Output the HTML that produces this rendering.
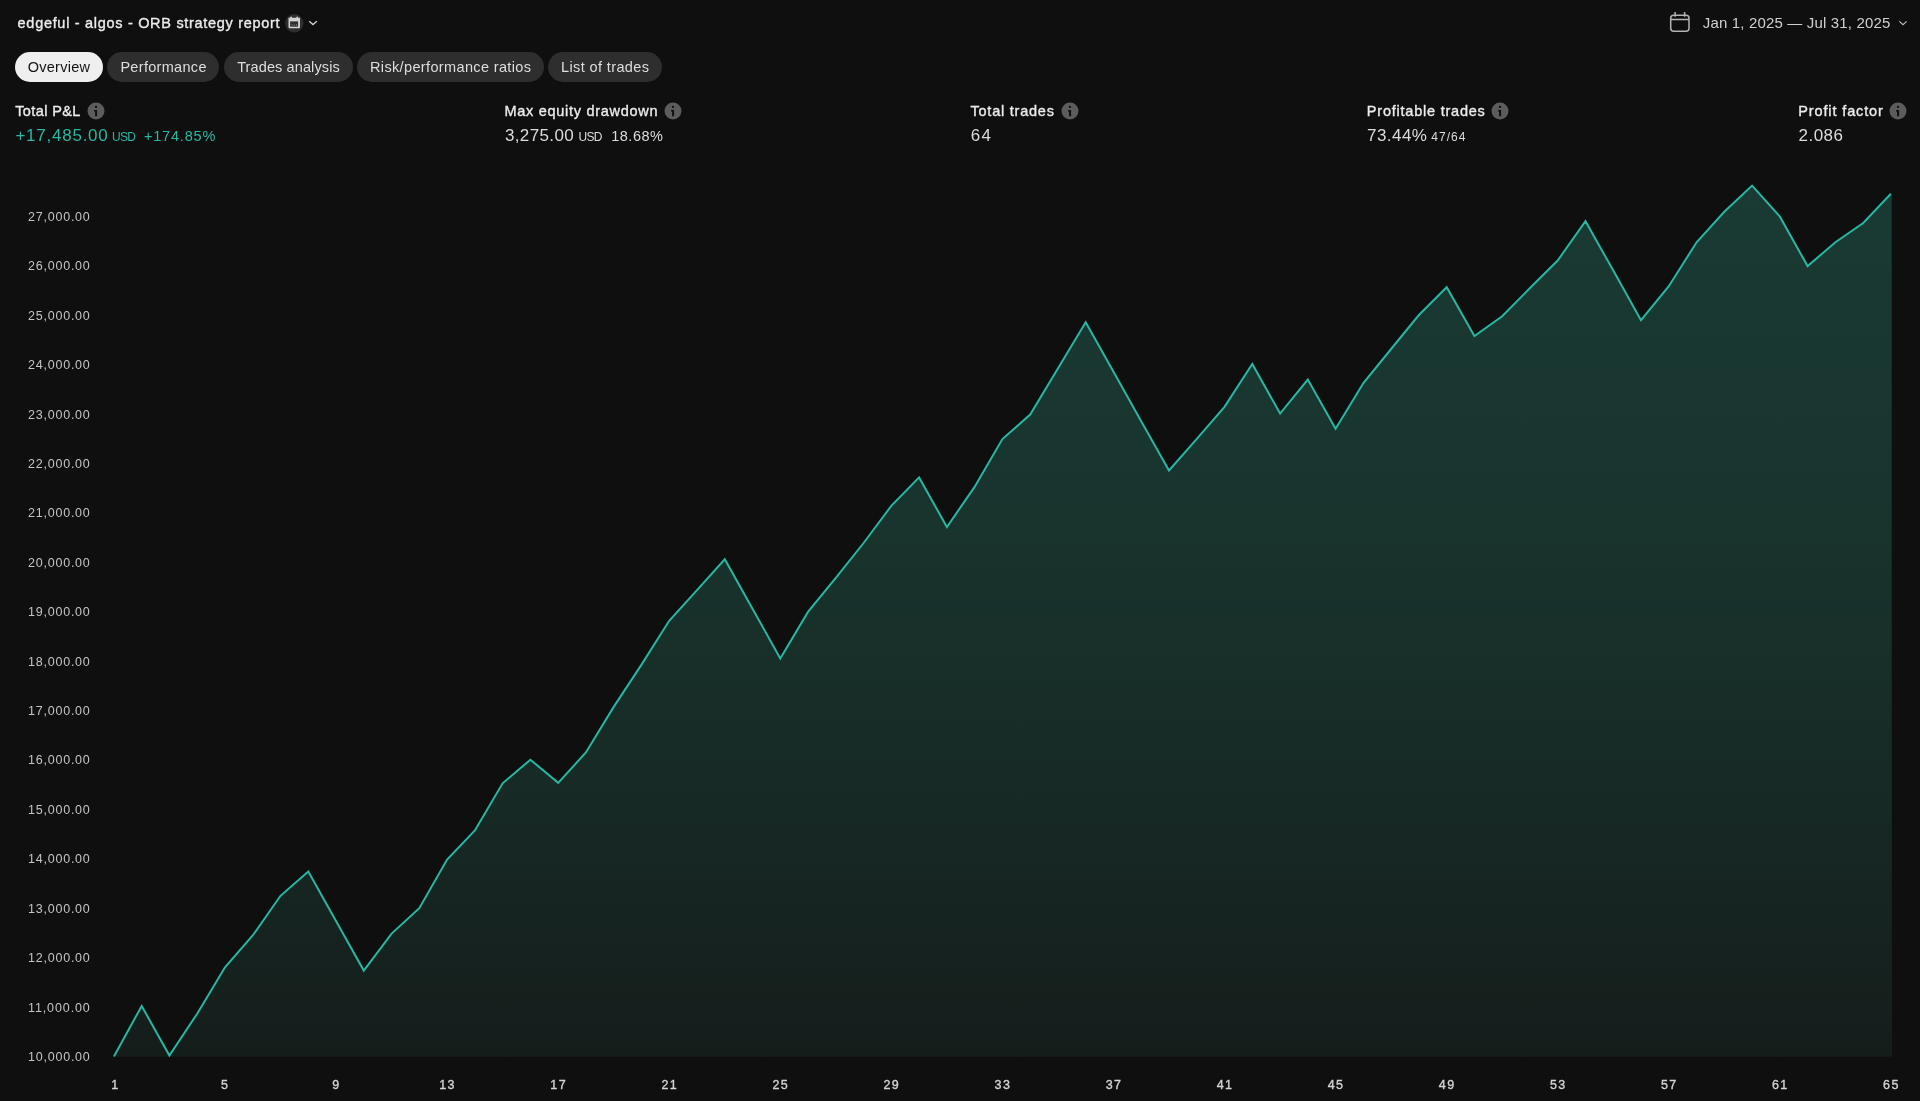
<!DOCTYPE html>
<html lang="en"><head><meta charset="utf-8"><title>edgeful - algos - ORB strategy report</title>
<style>
html,body{margin:0;padding:0;background:#0f0f0f;}
body{width:1920px;height:1101px;position:relative;overflow:hidden;font-family:"Liberation Sans",sans-serif;}
#app{position:absolute;left:0;top:0;width:1920px;height:1101px;will-change:transform;}
.g{position:absolute;left:0;top:0;}
.t{position:absolute;margin:0;white-space:pre;line-height:20px;height:20px;font-weight:400;}
.a{position:absolute;}
.pill{position:absolute;top:52.3px;height:29.3px;border-radius:15px;}
</style></head><body>
<div id="app">
<!-- equity chart -->
<svg class="a" style="left:0;top:0" width="1920" height="1101" viewBox="0 0 1920 1101">
<defs><linearGradient id="g" gradientUnits="userSpaceOnUse" x1="0" y1="185" x2="0" y2="1057">
<stop offset="0" stop-color="rgb(26,58,52)"/><stop offset="0.361" stop-color="rgb(25,52,46)"/><stop offset="0.717" stop-color="rgb(23,41,37)"/><stop offset="1" stop-color="rgb(21,29,27)"/></linearGradient></defs>
<polygon points="113.9,1056.4 141.7,1006.0 169.4,1055.5 197.2,1013.7 225.0,967.3 252.7,935.5 280.5,895.8 308.3,871.6 336.0,921.1 363.8,970.6 391.6,933.6 419.3,908.2 447.1,859.5 474.9,830.4 502.6,783.3 530.4,759.7 558.2,782.8 585.9,752.5 613.7,706.9 641.5,664.6 669.2,620.8 697.0,590.1 724.8,559.3 752.5,608.8 780.3,658.4 808.0,611.9 835.8,577.8 863.6,543.0 891.3,505.9 919.1,477.4 946.9,527.0 974.6,486.9 1002.4,439.1 1030.2,414.6 1057.9,368.5 1085.7,322.2 1113.5,371.7 1141.2,421.3 1169.0,470.5 1196.8,438.8 1224.5,406.9 1252.3,363.9 1280.1,413.6 1307.8,379.5 1335.6,428.7 1363.4,383.1 1391.1,349.0 1418.9,315.0 1446.7,287.2 1474.4,336.1 1502.2,316.2 1530.0,288.0 1557.7,260.5 1585.5,221.2 1613.3,270.6 1641.0,320.2 1668.8,286.2 1696.6,242.3 1724.3,211.8 1752.1,185.6 1779.9,216.7 1807.6,266.1 1835.4,242.3 1863.2,223.0 1890.9,193.8 1891.5,193.8 1891.5,1056.8 113.9,1056.8" fill="url(#g)"/>
<rect x="1890.9" y="194" width="1.3" height="862.8" fill="#26b8a2" fill-opacity="0.06"/>
<polyline points="113.9,1056.4 141.7,1006.0 169.4,1055.5 197.2,1013.7 225.0,967.3 252.7,935.5 280.5,895.8 308.3,871.6 336.0,921.1 363.8,970.6 391.6,933.6 419.3,908.2 447.1,859.5 474.9,830.4 502.6,783.3 530.4,759.7 558.2,782.8 585.9,752.5 613.7,706.9 641.5,664.6 669.2,620.8 697.0,590.1 724.8,559.3 752.5,608.8 780.3,658.4 808.0,611.9 835.8,577.8 863.6,543.0 891.3,505.9 919.1,477.4 946.9,527.0 974.6,486.9 1002.4,439.1 1030.2,414.6 1057.9,368.5 1085.7,322.2 1113.5,371.7 1141.2,421.3 1169.0,470.5 1196.8,438.8 1224.5,406.9 1252.3,363.9 1280.1,413.6 1307.8,379.5 1335.6,428.7 1363.4,383.1 1391.1,349.0 1418.9,315.0 1446.7,287.2 1474.4,336.1 1502.2,316.2 1530.0,288.0 1557.7,260.5 1585.5,221.2 1613.3,270.6 1641.0,320.2 1668.8,286.2 1696.6,242.3 1724.3,211.8 1752.1,185.6 1779.9,216.7 1807.6,266.1 1835.4,242.3 1863.2,223.0 1890.9,193.8" fill="none" stroke="#26b8a2" stroke-width="2" stroke-linejoin="miter" stroke-linecap="butt"/>
</svg>
<!-- header -->
<header class="g">
<h1 class="t" style="left:17.62px;top:13px;font-size:14.5px;color:#ececec;letter-spacing:0.696px;-webkit-text-stroke:0.35px #ececec;">edgeful - algos - ORB strategy report</h1>
<svg class="a" style="left:284.9px;top:14px" width="19" height="19" viewBox="0 0 19 19"><circle cx="9.3" cy="9.3" r="9.2" fill="#2e2e2e"/>
<path d="M3.5 3.8h11.5v9.4a1.1 1.1 0 0 1-1.1 1.1H4.6a1.1 1.1 0 0 1-1.1-1.1z" fill="#d2d2d2"/><rect x="5.1" y="7.4" width="8" height="5.3" fill="#2e2e2e"/><rect x="5.3" y="2.7" width="1.7" height="2.2" fill="#d2d2d2"/><rect x="11.4" y="2.7" width="1.7" height="2.2" fill="#d2d2d2"/><path d="M6.6 10.6h.9v.9h-.9zM8.8 10.6h.9v.9h-.9zM11 10.6h.9v.9h-.9z" fill="#a8a8a8"/></svg>
<svg class="a" style="left:307px;top:18px" width="12" height="10" viewBox="0 0 12 10"><path d="M2.2 3.2 6 6.6 9.8 3.2" fill="none" stroke="#d0d0d0" stroke-width="1.3"/></svg>
<svg class="a" style="left:1668px;top:10px" width="24" height="24" viewBox="0 0 24 24"><rect x="2.7" y="5.2" width="18.3" height="16" rx="3" fill="none" stroke="#b4b4b4" stroke-width="1.5"/><path d="M2.7 9.6h18.3M7.1 2.1v4.6M16.6 2.1v4.6" fill="none" stroke="#b4b4b4" stroke-width="1.5"/></svg>
<span class="t" style="left:1702.80px;top:13px;font-size:15px;color:#d0d0d0;letter-spacing:0.161px;">Jan 1, 2025 — Jul 31, 2025</span>
<svg class="a" style="left:1897.3px;top:18px" width="12" height="10" viewBox="0 0 12 10"><path d="M2.4 3.4 6 6.7 9.6 3.4" fill="none" stroke="#bdbdbd" stroke-width="1.15"/></svg>
</header>
<!-- tabs -->
<nav class="g"><div class="pill" style="left:14.5px;width:88.5px;background:#efefef"><span class="t" style="left:13.20px;top:4.7px;font-size:14.5px;color:#131313;letter-spacing:0.266px;">Overview</span></div><div class="pill" style="left:106.9px;width:112.4px;background:#2e2e2e"><span class="t" style="left:13.50px;top:4.7px;font-size:14.5px;color:#dedede;letter-spacing:0.308px;">Performance</span></div><div class="pill" style="left:224px;width:128.5px;background:#2e2e2e"><span class="t" style="left:13.20px;top:4.7px;font-size:14.5px;color:#dedede;letter-spacing:0.110px;">Trades analysis</span></div><div class="pill" style="left:357.3px;width:186.5px;background:#2e2e2e"><span class="t" style="left:12.70px;top:4.7px;font-size:14.5px;color:#dedede;letter-spacing:0.359px;">Risk/performance ratios</span></div><div class="pill" style="left:548.2px;width:113.6px;background:#2e2e2e"><span class="t" style="left:12.80px;top:4.7px;font-size:14.5px;color:#dedede;letter-spacing:0.383px;">List of trades</span></div></nav>
<!-- summary metrics -->
<section class="g">
<div class="g"><span class="t" style="left:15.22px;top:101px;font-size:14.5px;color:#ececec;letter-spacing:0.390px;-webkit-text-stroke:0.35px #ececec;">Total P&amp;L</span><svg class="a" style="left:87.0px;top:101.5px" width="18" height="18" viewBox="0 0 18 18"><circle cx="9" cy="9" r="8.5" fill="#5c5c5c"/><circle cx="9" cy="4.9" r="1.15" fill="#101010"/><path d="M7 7.9h3.1v6.4h-2v-4.8h-1.1z" fill="#101010"/></svg><span class="t" style="left:15.40px;top:126px;font-size:17px;color:#27b9a1;letter-spacing:0.760px;">+17,485.00</span><span class="t" style="left:112.00px;top:127px;font-size:12px;color:#27b9a1;letter-spacing:-0.672px;">USD</span><span class="t" style="left:143.90px;top:126px;font-size:14.5px;color:#27b9a1;letter-spacing:0.812px;">+174.85%</span></div>
<div class="g"><span class="t" style="left:504.52px;top:101px;font-size:14.5px;color:#ececec;letter-spacing:0.708px;-webkit-text-stroke:0.35px #ececec;">Max equity drawdown</span><svg class="a" style="left:664.0px;top:101.5px" width="18" height="18" viewBox="0 0 18 18"><circle cx="9" cy="9" r="8.5" fill="#5c5c5c"/><circle cx="9" cy="4.9" r="1.15" fill="#101010"/><path d="M7 7.9h3.1v6.4h-2v-4.8h-1.1z" fill="#101010"/></svg><span class="t" style="left:504.90px;top:126px;font-size:17px;color:#dcdcdc;letter-spacing:0.373px;">3,275.00</span><span class="t" style="left:578.60px;top:127px;font-size:12px;color:#dcdcdc;letter-spacing:-0.722px;">USD</span><span class="t" style="left:611.20px;top:126px;font-size:14.5px;color:#dcdcdc;letter-spacing:0.522px;">18.68%</span></div>
<div class="g"><span class="t" style="left:970.53px;top:101px;font-size:14.5px;color:#ececec;letter-spacing:0.766px;-webkit-text-stroke:0.35px #ececec;">Total trades</span><svg class="a" style="left:1060.5px;top:101.5px" width="18" height="18" viewBox="0 0 18 18"><circle cx="9" cy="9" r="8.5" fill="#5c5c5c"/><circle cx="9" cy="4.9" r="1.15" fill="#101010"/><path d="M7 7.9h3.1v6.4h-2v-4.8h-1.1z" fill="#101010"/></svg><span class="t" style="left:970.70px;top:126px;font-size:17px;color:#dcdcdc;letter-spacing:1.278px;">64</span></div>
<div class="g"><span class="t" style="left:1366.83px;top:101px;font-size:14.5px;color:#ececec;letter-spacing:0.775px;-webkit-text-stroke:0.35px #ececec;">Profitable trades</span><svg class="a" style="left:1491.0px;top:101.5px" width="18" height="18" viewBox="0 0 18 18"><circle cx="9" cy="9" r="8.5" fill="#5c5c5c"/><circle cx="9" cy="4.9" r="1.15" fill="#101010"/><path d="M7 7.9h3.1v6.4h-2v-4.8h-1.1z" fill="#101010"/></svg><span class="t" style="left:1367.00px;top:126px;font-size:17px;color:#dcdcdc;letter-spacing:0.466px;">73.44%</span><span class="t" style="left:1431.30px;top:127px;font-size:12px;color:#dcdcdc;letter-spacing:1.017px;">47/64</span></div>
<div class="g"><span class="t" style="left:1798.33px;top:101px;font-size:14.5px;color:#ececec;letter-spacing:0.863px;-webkit-text-stroke:0.35px #ececec;">Profit factor</span><svg class="a" style="left:1888.9px;top:101.5px" width="18" height="18" viewBox="0 0 18 18"><circle cx="9" cy="9" r="8.5" fill="#5c5c5c"/><circle cx="9" cy="4.9" r="1.15" fill="#101010"/><path d="M7 7.9h3.1v6.4h-2v-4.8h-1.1z" fill="#101010"/></svg><span class="t" style="left:1798.50px;top:126px;font-size:17px;color:#dcdcdc;letter-spacing:0.488px;">2.086</span></div>
</section>
<!-- price axis -->
<div class="g"><span class="t" style="left:28.00px;top:207px;font-size:12.5px;color:#c4c4c4;letter-spacing:0.774px;">27,000.00</span><span class="t" style="left:28.00px;top:256px;font-size:12.5px;color:#c4c4c4;letter-spacing:0.774px;">26,000.00</span><span class="t" style="left:28.00px;top:306px;font-size:12.5px;color:#c4c4c4;letter-spacing:0.774px;">25,000.00</span><span class="t" style="left:28.00px;top:355px;font-size:12.5px;color:#c4c4c4;letter-spacing:0.774px;">24,000.00</span><span class="t" style="left:28.00px;top:405px;font-size:12.5px;color:#c4c4c4;letter-spacing:0.774px;">23,000.00</span><span class="t" style="left:28.00px;top:454px;font-size:12.5px;color:#c4c4c4;letter-spacing:0.774px;">22,000.00</span><span class="t" style="left:28.00px;top:503px;font-size:12.5px;color:#c4c4c4;letter-spacing:0.774px;">21,000.00</span><span class="t" style="left:28.00px;top:553px;font-size:12.5px;color:#c4c4c4;letter-spacing:0.774px;">20,000.00</span><span class="t" style="left:28.00px;top:602px;font-size:12.5px;color:#c4c4c4;letter-spacing:0.774px;">19,000.00</span><span class="t" style="left:28.00px;top:652px;font-size:12.5px;color:#c4c4c4;letter-spacing:0.774px;">18,000.00</span><span class="t" style="left:28.00px;top:701px;font-size:12.5px;color:#c4c4c4;letter-spacing:0.774px;">17,000.00</span><span class="t" style="left:28.00px;top:750px;font-size:12.5px;color:#c4c4c4;letter-spacing:0.774px;">16,000.00</span><span class="t" style="left:28.00px;top:800px;font-size:12.5px;color:#c4c4c4;letter-spacing:0.774px;">15,000.00</span><span class="t" style="left:28.00px;top:849px;font-size:12.5px;color:#c4c4c4;letter-spacing:0.774px;">14,000.00</span><span class="t" style="left:28.00px;top:899px;font-size:12.5px;color:#c4c4c4;letter-spacing:0.774px;">13,000.00</span><span class="t" style="left:28.00px;top:948px;font-size:12.5px;color:#c4c4c4;letter-spacing:0.774px;">12,000.00</span><span class="t" style="left:28.00px;top:998px;font-size:12.5px;color:#c4c4c4;letter-spacing:0.889px;">11,000.00</span><span class="t" style="left:28.00px;top:1047px;font-size:12.5px;color:#c4c4c4;letter-spacing:0.774px;">10,000.00</span></div>
<!-- trade number axis -->
<div class="g"><span class="t" style="left:111.23px;top:1075px;font-size:12.5px;color:#d4d4d4;-webkit-text-stroke:0.35px #d4d4d4;">1</span><span class="t" style="left:221.09px;top:1075px;font-size:12.5px;color:#d4d4d4;-webkit-text-stroke:0.35px #d4d4d4;">5</span><span class="t" style="left:332.15px;top:1075px;font-size:12.5px;color:#d4d4d4;-webkit-text-stroke:0.35px #d4d4d4;">9</span><span class="t" style="left:439.27px;top:1075px;font-size:12.5px;color:#d4d4d4;letter-spacing:1.394px;-webkit-text-stroke:0.35px #d4d4d4;">13</span><span class="t" style="left:550.33px;top:1075px;font-size:12.5px;color:#d4d4d4;letter-spacing:1.394px;-webkit-text-stroke:0.35px #d4d4d4;">17</span><span class="t" style="left:661.39px;top:1075px;font-size:12.5px;color:#d4d4d4;letter-spacing:1.394px;-webkit-text-stroke:0.35px #d4d4d4;">21</span><span class="t" style="left:772.46px;top:1075px;font-size:12.5px;color:#d4d4d4;letter-spacing:1.394px;-webkit-text-stroke:0.35px #d4d4d4;">25</span><span class="t" style="left:883.52px;top:1075px;font-size:12.5px;color:#d4d4d4;letter-spacing:1.394px;-webkit-text-stroke:0.35px #d4d4d4;">29</span><span class="t" style="left:994.59px;top:1075px;font-size:12.5px;color:#d4d4d4;letter-spacing:1.394px;-webkit-text-stroke:0.35px #d4d4d4;">33</span><span class="t" style="left:1105.65px;top:1075px;font-size:12.5px;color:#d4d4d4;letter-spacing:1.394px;-webkit-text-stroke:0.35px #d4d4d4;">37</span><span class="t" style="left:1216.71px;top:1075px;font-size:12.5px;color:#d4d4d4;letter-spacing:1.394px;-webkit-text-stroke:0.35px #d4d4d4;">41</span><span class="t" style="left:1327.78px;top:1075px;font-size:12.5px;color:#d4d4d4;letter-spacing:1.394px;-webkit-text-stroke:0.35px #d4d4d4;">45</span><span class="t" style="left:1438.84px;top:1075px;font-size:12.5px;color:#d4d4d4;letter-spacing:1.394px;-webkit-text-stroke:0.35px #d4d4d4;">49</span><span class="t" style="left:1549.91px;top:1075px;font-size:12.5px;color:#d4d4d4;letter-spacing:1.394px;-webkit-text-stroke:0.35px #d4d4d4;">53</span><span class="t" style="left:1660.97px;top:1075px;font-size:12.5px;color:#d4d4d4;letter-spacing:1.394px;-webkit-text-stroke:0.35px #d4d4d4;">57</span><span class="t" style="left:1772.03px;top:1075px;font-size:12.5px;color:#d4d4d4;letter-spacing:1.394px;-webkit-text-stroke:0.35px #d4d4d4;">61</span><span class="t" style="left:1883.10px;top:1075px;font-size:12.5px;color:#d4d4d4;letter-spacing:1.394px;-webkit-text-stroke:0.35px #d4d4d4;">65</span></div>
</div>
</body></html>
